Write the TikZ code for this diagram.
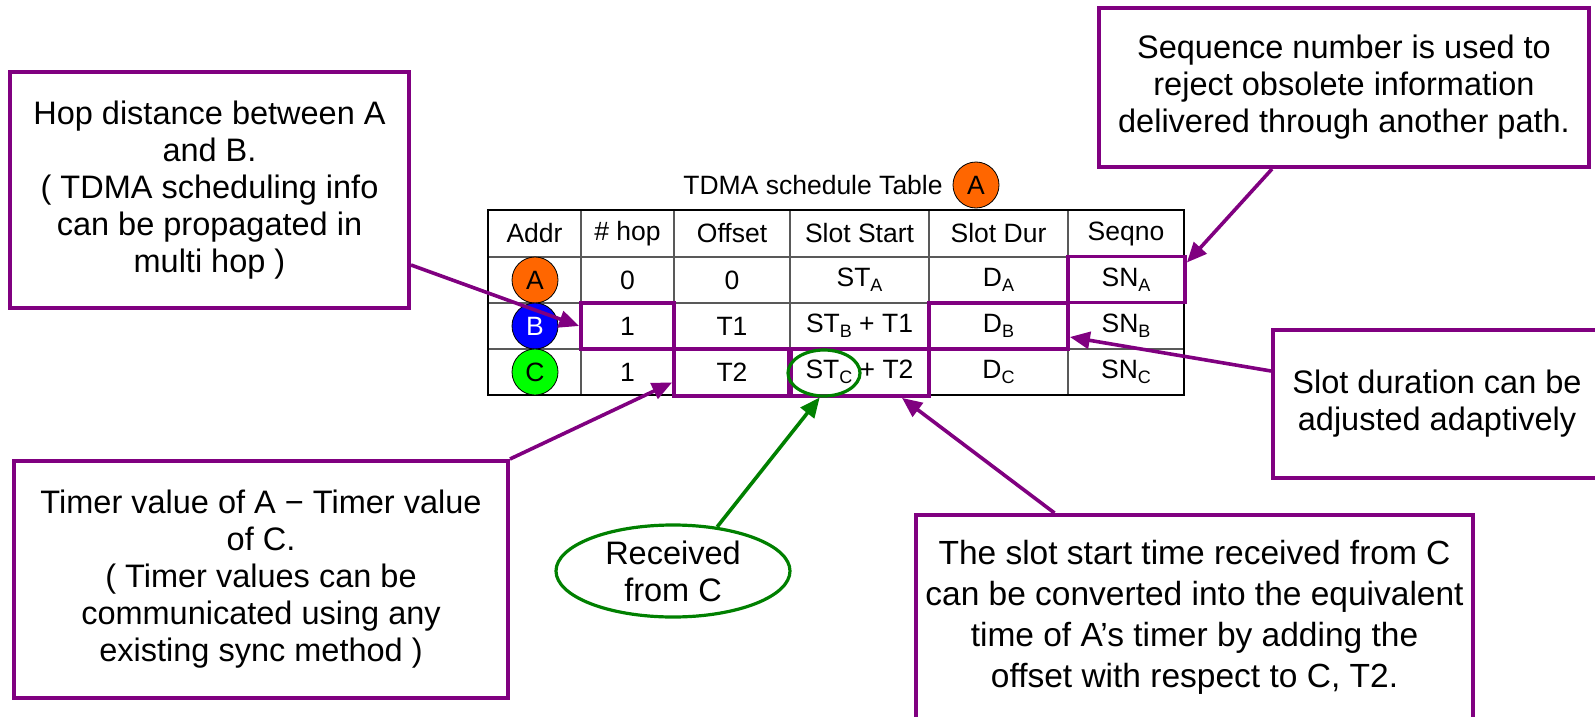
\documentclass[tikz,border=0pt]{standalone}
\usepackage{fontspec}
\setmainfont{Liberation Sans}
\usetikzlibrary{arrows.meta,calc,shapes.geometric}
\definecolor{pp}{HTML}{800080}
\definecolor{dg}{HTML}{008000}
\definecolor{orA}{HTML}{FF6600}
\definecolor{blB}{HTML}{0000FF}
\definecolor{grC}{HTML}{00FF00}
\newcommand\mysub[1]{\raisebox{-0.35ex}{\fontsize{18}{18}\selectfont #1}}
\begin{document}
\begin{tikzpicture}[x=1pt,y=-1pt,
  callout/.style={draw=pp, line width=4pt, fill=white, align=center, font=\fontsize{32.5}{37}\selectfont, inner sep=0pt},
  hl/.style={draw=pp, line width=3.8pt, inner sep=0pt},
  cell/.style={font=\fontsize{26.5}{30}\selectfont, inner sep=0pt},
  addr/.style={circle, draw=black, line width=0.8pt, minimum size=46pt, inner sep=0pt, font=\fontsize{26.5}{30}\selectfont},
  parr/.style={draw=pp, line width=3.6pt, -{Triangle[length=20pt,width=17pt]}},
  garr/.style={draw=dg, line width=3.6pt, -{Triangle[length=20pt,width=17pt]}},
  grid/.style={draw=black!65, line width=1.3pt},
]
\useasboundingbox (0,0) rectangle (1595,717);
\fill[white] (0,0) rectangle (1595,717);

% title
\node[cell] (title) at (813,185) {TDMA schedule Table};
\node[addr, fill=orA] (tA) at (976,185) {A};

% table grid
\foreach \x in {581,674,790,929,1068} \draw[grid] (\x,210) -- (\x,395);
\foreach \y in {257,303,349} \draw[grid] (488,\y) -- (1184,\y);
\draw[black, line width=1.5pt] (488,210) rectangle (1184,395);

% header
\node[cell] (hAddr) at (534.5,233.5) {Addr};
\node[cell] (hHop)  at (627.5,233.5) {\# hop};
\node[cell] (hOff)  at (732,233.5) {Offset};
\node[cell] (hSS)   at (859.5,233.5) {Slot Start};
\node[cell] (hSD)   at (998.5,233.5) {Slot Dur};
\node[cell] (hSeq)  at (1126,233.5) {Seqno};

% row A
\node[addr, fill=orA] (rA) at (535,280) {A};
\node[cell] (aHop) at (627.5,280) {0};
\node[cell] (aOff) at (732,280) {0};
\node[cell] (aSS)  at (859.5,280) {ST\mysub{A}};
\node[cell] (aSD)  at (998.5,280) {D\mysub{A}};
\node[cell] (aSeq) at (1126,280) {SN\mysub{A}};

% row B
\node[addr, fill=blB, text=white] (rB) at (535,326) {B};
\node[cell] (bHop) at (627.5,326) {1};
\node[cell] (bOff) at (732,326) {T1};
\node[cell] (bSS)  at (859.5,326) {ST\mysub{B} + T1};
\node[cell] (bSD)  at (998.5,326) {D\mysub{B}};
\node[cell] (bSeq) at (1126,326) {SN\mysub{B}};

% row C
\node[addr, fill=grC] (rC) at (535,372) {C};
\node[cell] (cHop) at (627.5,372) {1};
\node[cell] (cOff) at (732,372) {T2};
\node[cell] (cSS)  at (859.5,372) {ST\mysub{C} + T2};
\node[cell] (cSD)  at (998.5,372) {D\mysub{C}};
\node[cell] (cSeq) at (1126,372) {SN\mysub{C}};

% highlights
\node[hl, minimum width=93pt, minimum height=46pt] (hB) at (627.5,326) {};
\node[hl, minimum width=139pt, minimum height=46pt] (hDB) at (998.5,326) {};
\node[hl, minimum width=117pt, minimum height=46pt] (hSA) at (1126.5,279.5) {};
\node[hl, minimum width=115pt, minimum height=47pt] (hOC) at (731.5,372.5) {};
\node[hl, minimum width=138pt, minimum height=47pt] (hSC) at (860,372.5) {};
\node[ellipse, draw=dg, line width=3.2pt, minimum width=72pt, minimum height=46pt, inner sep=0pt] (stc) at (824,373) {};

% callouts
\node[callout, minimum width=399pt, minimum height=236pt] (hop) at (209.5,190)
  {Hop distance between A\\and B.\\( TDMA scheduling info\\can be propagated in\\multi hop )};
\node[callout, minimum width=490pt, minimum height=159pt] (seq) at (1344,87.5)
  {Sequence number is used to\\reject obsolete information\\delivered through another path.};
\node[callout, minimum width=328pt, minimum height=148pt] (sdur) at (1437,404)
  {Slot duration can be\\adjusted adaptively};
\node[callout, minimum width=494pt, minimum height=237pt] (timer) at (261,579.5)
  {Timer value of A − Timer value\\of C.\\( Timer values can be\\communicated using any\\existing sync method )};
\node[callout, minimum width=557pt, minimum height=204pt, font=\fontsize{33.5}{41}\selectfont] (conv) at (1194.5,617)
  {The slot start time received from C\\can be converted into the equivalent\\time of A’s timer by adding the\\offset with respect to C, T2.};
\node[ellipse, draw=dg, line width=3.2pt, fill=white, minimum width=234pt, minimum height=92pt, inner sep=0pt,
  label={[align=center, font=\fontsize{32.5}{37}\selectfont]center:Received\\from C}] (recv) at (673,571) {};

% connectors
\draw[parr] ($(hop.east)+(0,75)$) -- (hB.west);
\draw[parr] ($(seq.south)+(-72,0)$) -- ($(hSA.east)+(0,-17)$);
\draw[parr] ($(sdur.west)+(0,-33)$) -- ($(hDB.east)+(0,11)$);
\draw[parr] (timer.north east) -- ($(hOC.west)+(0,10)$);
\draw[garr] (recv.45) -- (stc.-100);
\draw[parr] ($(conv.north)+(-140,0)$) -- ($(hSC.south)+(42,0)$);
\end{tikzpicture}
\end{document}
